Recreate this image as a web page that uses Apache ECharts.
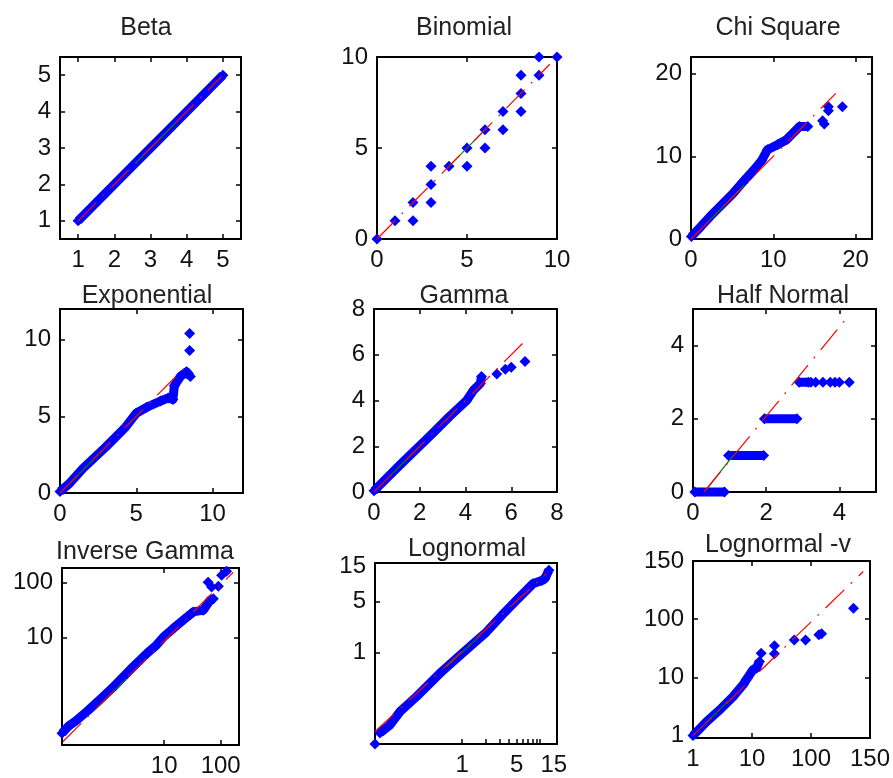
<!DOCTYPE html>
<html>
<head>
<meta charset="utf-8">
<title>Q-Q plots</title>
<script src="https://cdn.jsdelivr.net/npm/echarts@6/dist/echarts.min.js"></script>
<style>
html, body { margin: 0; padding: 0; background: #fff; }
#chart { width: 893px; height: 778px; }
</style>
</head>
<body>
<div id="chart"></div>
<script>
// ---- values ----
var titles = ["Beta", "Binomial", "Chi Square", "Exponential", "Gamma", "Half Normal",
  "Inverse Gamma", "Lognormal", "Lognormal -v"];

// Beta
var betaBand = [[1, 1], [1.5, 1.5], [2, 2], [2.5, 2.5], [3, 3], [3.5, 3.5], [4, 4], [4.5, 4.5], [5, 5]];
var betaPts = [];
var betaRef = [[1, 1], [4.95, 4.95]];
var betaIqr = [[2.6, 2.6], [3.7, 3.7]];
var betaTicks = [1, 2, 3, 4, 5];

// Binomial
var binomPts = [[0, 0], [1, 1], [2, 1], [2, 2], [3, 2], [3, 3], [3, 4], [4, 4], [5, 4], [5, 5],
  [6, 5], [6, 6], [7, 6], [7, 7], [8, 7], [8, 8], [8, 9], [9, 9], [9, 10], [10, 10]];
var binomRef = [[0, 0], [9.6, 9.6]];
var binomIqr = [[4, 4], [6, 6]];
var binomTicks = [0, 5, 10];

// Chi Square
var chiBand = [[0.05, 0.3], [1.2, 1.5], [2.3, 2.7], [3.6, 4.0], [5.1, 5.5], [6.4, 7.0], [7.6, 8.3],
  [8.6, 9.5], [9.3, 10.8], [10.5, 11.4], [11.6, 12.0], [12.4, 12.8], [13.2, 13.6], [14.2, 13.6]];
var chiPts = [[16.0, 14.3], [16.2, 13.9], [16.7, 15.5], [16.7, 16.0], [18.4, 16.0]];
var chiRef = [[0, 0], [17.6, 17.6]];
var chiIqr = [[2.2, 2.2], [6.5, 6.5]];
var chiTicks = [0, 10, 20];

// Exponential
var expBand = [[0, 0.1], [0.6, 0.6], [1.5, 1.6], [3.0, 3.0], [4.3, 4.3], [5.0, 5.2], [5.7, 5.6],
  [6.6, 6.0], [7.1, 6.2], [7.4, 6.1], [7.5, 7.0], [7.9, 7.6], [8.3, 7.9], [8.55, 7.6]];
var expPts = [[8.5, 9.3], [8.5, 10.4]];
var expRef = [[0, 0], [8.4, 8.4]];
var expIqr = [[0.6, 0.6], [2.8, 2.8]];
var expTicks = [0, 5, 10];

// Gamma
var gamBand = [[0, 0.05], [1.1, 1.15], [2.6, 2.6], [3.3, 3.3], [4.05, 4.0], [4.35, 4.45], [4.65, 4.75], [4.7, 5.05]];
var gamPts = [[5.37, 5.16], [5.74, 5.37], [6.0, 5.45], [6.6, 5.7]];
var gamRef = [[0, 0], [6.6, 6.6]];
var gamIqr = [[0.8, 0.8], [2.0, 2.0]];
var gamTicks = [0, 2, 4, 6, 8];

// Half Normal (sample values are whole numbers, so the runs are flat)
var halfRun0 = [[0.05, 0], [0.86, 0]];
var halfRun1 = [[0.97, 1], [1.93, 1]];
var halfRun2 = [[1.95, 2], [2.84, 2]];
var halfRun3 = [[2.9, 3], [3.15, 3]];
var halfPts = [[3.22, 3], [3.35, 3], [3.55, 3], [3.75, 3], [3.88, 3], [4.0, 3], [4.27, 3]];
var halfRef = [[0.3, 0], [4.15, 4.69]];
var halfIqr = [[0.35, 0.05], [1.1, 1.0]];
var halfTicks = [0, 2, 4];

// Inverse Gamma (log axes)
var invBand = [[0.155, 0.18], [0.2, 0.24], [0.28, 0.31], [0.45, 0.47], [0.72, 0.73], [1.3, 1.3], [2.8, 2.9],
  [5, 5.2], [7.3, 7.3], [10, 10.5], [14.4, 14.6], [22, 21], [32.7, 29.3], [49, 31.5], [64.6, 47.6], [74, 51]];
var invPts = [[60, 102], [69, 83], [91, 86], [104, 136], [127, 162]];
var invRef = [[0.16, 0.126], [167, 155]];
var invIqr = [[0.72, 0.585], [2.14, 1.78]];
var invTicks = [10, 100];

// Lognormal (log axes)
var lnBand = [[0.088, 0.079], [0.118, 0.102], [0.159, 0.155], [0.26, 0.25], [0.52, 0.52], [1, 0.97], [2.05, 1.9],
  [3.4, 3.4], [5, 5.2], [8.1, 8.7], [10.5, 9.6], [11.5, 10.2], [13, 13.3]];
var lnPts = [[0.076, 0.056]];
var lnRef = [[0.076, 0.083], [12.0, 11.9]];
var lnIqr = [[0.63, 0.64], [1.7, 1.7]];
var lnLabels = [1, 5, 15];
var lnXTicks = [1, 2, 3, 4, 5, 6, 7, 8, 9, 10];
var lnYTicks = [1, 5];

// Lognormal -v (log axes, the top label reads 150)
var lnvBand = [[1, 1], [1.72, 1.76], [2.87, 2.79], [4.8, 4.7], [7.07, 7.5], [8.0, 9.1], [10.4, 13.5], [11.8, 14.4], [13.4, 18.8]];
var lnvPts = [[14.3, 26], [24, 35], [24, 25.5], [52, 44], [81, 44], [136, 54], [151, 56], [525, 155]];
var lnvRef = [[1, 1], [770, 659]];
var lnvIqr = [[1.6, 1.6], [4, 4]];
var lnvLabelVals = [1, 10, 100, 1000];
var lnvLabelText = ["1", "10", "100", "150"];
var lnvTicks = [10, 100];

// ---- layout ----
var FONT = '"Liberation Sans", Arial, sans-serif';
var boxes = [
  [60, 57, 181, 182], [377, 57, 180, 182], [691, 57, 181, 182],
  [60, 309, 183, 184], [374, 309, 183, 183], [693, 309, 183, 183],
  [62, 568, 177, 177], [375, 563, 182, 181], [693, 561, 179, 177]
];
var titlePos = [[146, 28], [464, 28], [778, 28], [147, 296], [464, 296], [783, 296], [145, 552], [467, 549], [778, 545]];

function lnvFmt(v) {
  var i = lnvLabelVals.indexOf(Math.round(v));
  return i < 0 ? "" : lnvLabelText[i];
}
function logFmt(v) { return String(Math.round(v)); }

var panels = [
  { bands: [betaBand], pts: betaPts, ref: betaRef, iqr: betaIqr, type: "value",
    xr: [0.5, 5.5], yr: [0.5, 5.5], xl: betaTicks, xt: betaTicks, yl: betaTicks, yt: betaTicks },
  { bands: [], pts: binomPts, ref: binomRef, iqr: binomIqr, type: "value",
    xr: [0, 10], yr: [0, 10], xl: binomTicks, xt: binomTicks, yl: binomTicks, yt: binomTicks },
  { bands: [chiBand], pts: chiPts, ref: chiRef, iqr: chiIqr, type: "value",
    xr: [0, 22], yr: [0, 22], xl: chiTicks, xt: chiTicks, yl: chiTicks, yt: chiTicks },
  { bands: [expBand], pts: expPts, ref: expRef, iqr: expIqr, type: "value",
    xr: [0, 12], yr: [0, 12], xl: expTicks, xt: expTicks, yl: expTicks, yt: expTicks },
  { bands: [gamBand], pts: gamPts, ref: gamRef, iqr: gamIqr, type: "value",
    xr: [0, 8], yr: [0, 8], xl: gamTicks, xt: gamTicks, yl: gamTicks, yt: gamTicks },
  { bands: [halfRun0, halfRun1, halfRun2, halfRun3], pts: halfPts, ref: halfRef, iqr: halfIqr, type: "value",
    xr: [0, 5], yr: [0, 5], xl: halfTicks, xt: halfTicks, yl: halfTicks, yt: halfTicks },
  { bands: [invBand], pts: invPts, ref: invRef, iqr: invIqr, type: "log", fmt: logFmt,
    xr: [0.155, 211], yr: [0.11, 185], xl: invTicks, xt: invTicks, yl: invTicks, yt: invTicks },
  { bands: [lnBand], pts: lnPts, ref: lnRef, iqr: lnIqr, type: "log", fmt: logFmt,
    xr: [0.076, 16.5], yr: [0.056, 16.7], xl: lnLabels, xt: lnXTicks, yl: lnLabels, yt: lnYTicks, noTop: true },
  { bands: [lnvBand], pts: lnvPts, ref: lnvRef, iqr: lnvIqr, type: "log", fmt: lnvFmt,
    xr: [1, 1000], yr: [0.91, 1000], xl: lnvLabelVals, xt: lnvTicks, yl: lnvLabelVals, yt: lnvTicks }
];

var grids = [], xAxes = [], yAxes = [], series = [], graphics = [];

function makeAxis(gi, pos, p, range, labels, ticks, withLabels) {
  return {
    type: p.type, logBase: 10, gridIndex: gi, position: pos,
    min: range[0], max: range[1],
    axisLine: { show: true, onZero: false, lineStyle: { color: "#000", width: 2 } },
    axisTick: { show: ticks.length > 0, inside: true, length: 5, customValues: ticks,
      lineStyle: { color: "#000", width: 1.5 } },
    axisLabel: { show: withLabels, customValues: labels, margin: 9, color: "#111",
      fontSize: 24, fontFamily: FONT, formatter: p.fmt },
    splitLine: { show: false },
    silent: true
  };
}

panels.forEach(function (p, i) {
  var b = boxes[i];
  grids.push({ left: b[0], top: b[1], width: b[2], height: b[3] });
  xAxes.push(makeAxis(i, "bottom", p, p.xr, p.xl, p.xt, true));
  xAxes.push(makeAxis(i, "top", p, p.xr, [], p.noTop ? [] : p.xt, false));
  yAxes.push(makeAxis(i, "left", p, p.yr, p.yl, p.yt, true));
  yAxes.push(makeAxis(i, "right", p, p.yr, [], p.yt, false));

  p.bands.forEach(function (band) {
    series.push({
      type: "line", xAxisIndex: 2 * i, yAxisIndex: 2 * i, data: band,
      symbol: "diamond", symbolSize: 11, showSymbol: true, clip: false,
      lineStyle: { color: "#0000ff", width: 9, join: "round", opacity: 1 },
      itemStyle: { color: "#0000ff", opacity: 1 }, z: 2
    });
  });
  if (p.pts.length) {
    series.push({
      type: "scatter", xAxisIndex: 2 * i, yAxisIndex: 2 * i, data: p.pts,
      symbol: "diamond", symbolSize: 11, clip: false,
      itemStyle: { color: "#0000ff", opacity: 1 }, z: 2
    });
  }
  series.push({
    type: "line", xAxisIndex: 2 * i, yAxisIndex: 2 * i, data: p.iqr, symbol: "none",
    lineStyle: { color: "#008000", width: 1.2 }, z: 3
  });
  series.push({
    type: "line", xAxisIndex: 2 * i, yAxisIndex: 2 * i, data: p.ref, symbol: "none",
    lineStyle: { color: "#ff0000", width: 1.2, type: [26, 9, 2, 9] }, z: 4
  });

  graphics.push({
    type: "text", x: titlePos[i][0], y: titlePos[i][1], silent: true,
    style: { text: titles[i], fontSize: 25, fontFamily: FONT, fill: "#222",
      align: "center", verticalAlign: "middle" }
  });
});

var myChart = echarts.init(document.getElementById("chart"));
myChart.setOption({
  animation: false,
  backgroundColor: "#fff",
  grid: grids,
  xAxis: xAxes,
  yAxis: yAxes,
  series: series,
  graphic: graphics
});
</script>
</body>
</html>
